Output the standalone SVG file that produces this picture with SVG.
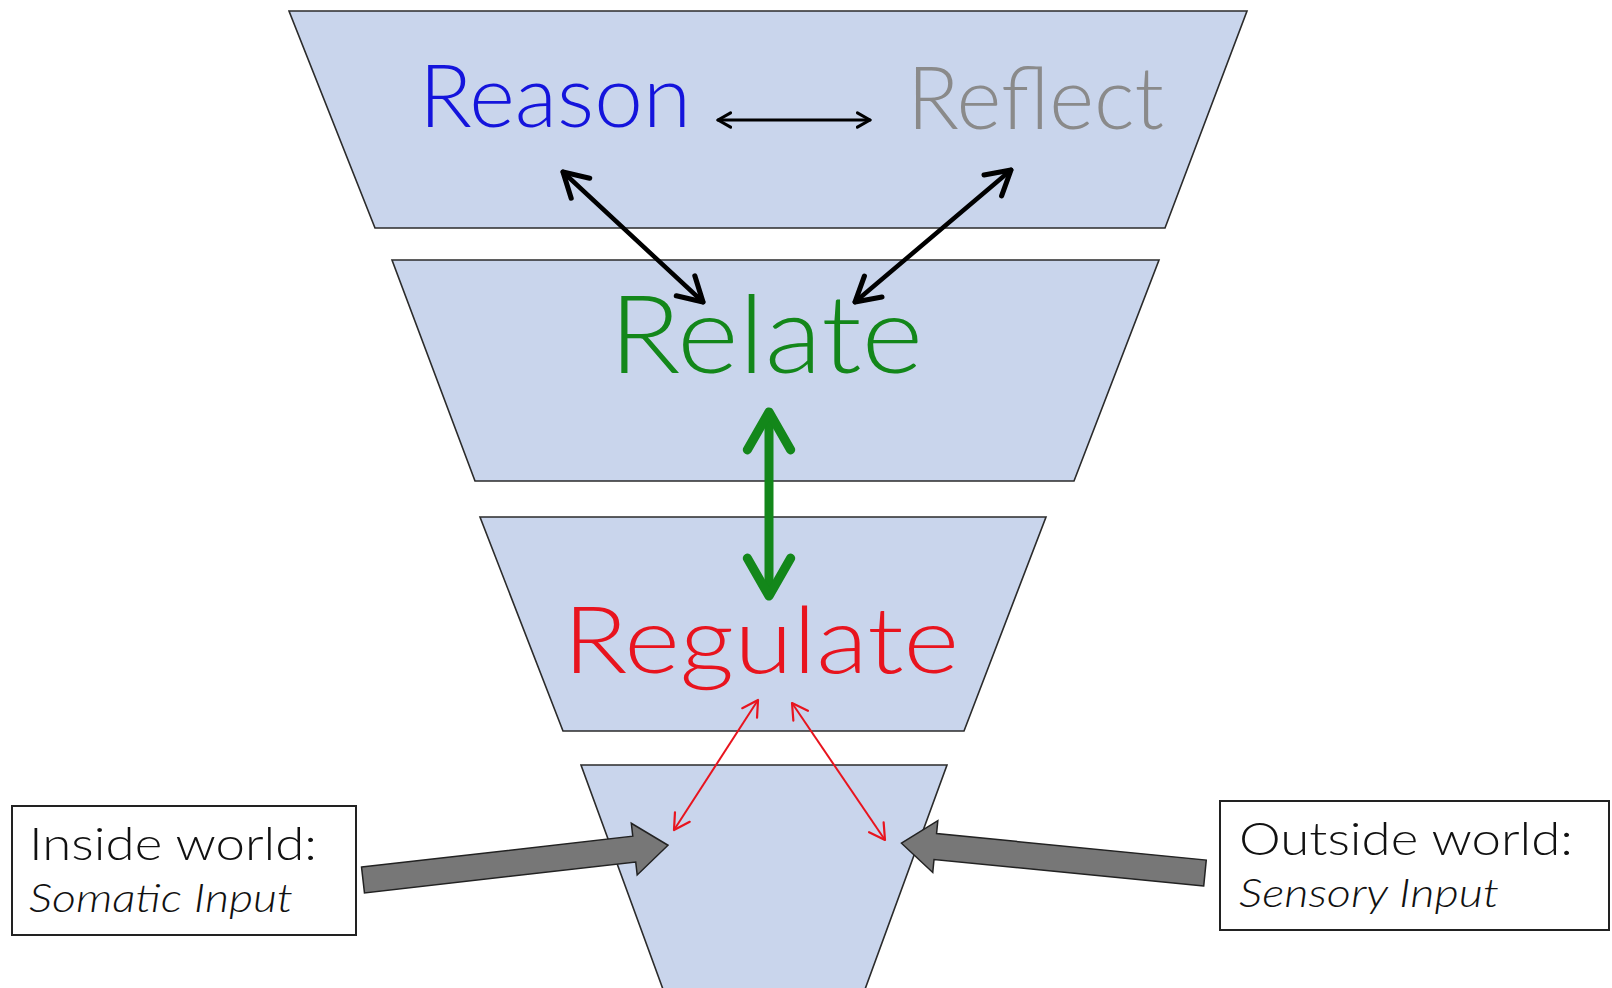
<svg xmlns="http://www.w3.org/2000/svg" width="1612" height="988" viewBox="0 0 1612 988">
<style>
.tier{fill:#c9d5ec;stroke:#2b2b2b;stroke-width:1.6}
.lbl{font-family:Lato,"Open Sans","Liberation Sans",sans-serif;font-weight:300}
.box{fill:#fff;stroke:#222;stroke-width:2}
.boxt{font-family:Lato,"Open Sans","Liberation Sans",sans-serif;font-weight:300;fill:#111}
.blk{fill:none;stroke:#000;stroke-linecap:round;stroke-linejoin:round}
.big{fill:#777;stroke:#222;stroke-width:1.5}
</style>
<defs>
<marker id="m-thin" viewBox="0 0 10 10" refX="8" refY="5" markerWidth="18" markerHeight="18" orient="auto-start-reverse" markerUnits="userSpaceOnUse">
<path d="M1,1 L8,5 L1,9" fill="none" stroke="#000" stroke-width="1.7" stroke-linecap="round" stroke-linejoin="round"/>
</marker>
<marker id="m-diag" viewBox="0 0 10 10" refX="8" refY="5" markerWidth="34" markerHeight="34" orient="auto-start-reverse" markerUnits="userSpaceOnUse">
<path d="M1,1 L8,5 L1,9" fill="none" stroke="#000" stroke-width="1.5" stroke-linecap="round" stroke-linejoin="round"/>
</marker>
<marker id="m-green" viewBox="0 0 10 10" refX="8" refY="5" markerWidth="54" markerHeight="54" orient="auto-start-reverse" markerUnits="userSpaceOnUse">
<path d="M1,1 L8,5 L1,9" fill="none" stroke="#13871a" stroke-width="1.7" stroke-linecap="round" stroke-linejoin="round"/>
</marker>
<marker id="m-red" viewBox="0 0 10 10" refX="8" refY="5" markerWidth="22" markerHeight="22" orient="auto-start-reverse" markerUnits="userSpaceOnUse">
<path d="M1,1 L8,5 L1,9" fill="none" stroke="#e8141e" stroke-width="1" stroke-linecap="round" stroke-linejoin="round"/>
</marker>
</defs>
<rect width="1612" height="988" fill="#fff"/>
<g id="tier-reason-reflect">
<polygon class="tier" points="289,11 1247,11 1165,228 375,228"/>
<text class="lbl" x="419" y="127" font-size="86" fill="#1414dc" textLength="272" lengthAdjust="spacingAndGlyphs">Reason</text>
<text class="lbl" x="907" y="129" font-size="86" fill="#8a8a8a" textLength="257" lengthAdjust="spacingAndGlyphs">Reflect</text>
</g>
<g id="tier-relate">
<polygon class="tier" points="392,260 1159,260 1074,481 475,481"/>
<text class="lbl" x="609" y="373" font-size="108" fill="#13871a" textLength="314" lengthAdjust="spacingAndGlyphs">Relate</text>
</g>
<g id="tier-regulate">
<polygon class="tier" points="480,517 1046,517 964,731 563,731"/>
<text class="lbl" x="563" y="673" font-size="93" fill="#e8141e" textLength="396" lengthAdjust="spacingAndGlyphs">Regulate</text>
</g>
<g id="tier-base">
<polygon class="tier" points="581,765 947,765 864,992 664,992"/>
</g>
<g id="inside-world">
<rect class="box" x="12" y="806" width="344" height="129"/>
<text class="boxt" x="29" y="860" font-size="46" textLength="288" lengthAdjust="spacingAndGlyphs">Inside world:</text>
<text class="boxt" x="29" y="912" font-size="39" font-style="italic" textLength="264" lengthAdjust="spacingAndGlyphs">Somatic Input</text>
</g>
<g id="outside-world">
<rect class="box" x="1220" y="801" width="389" height="129"/>
<text class="boxt" x="1239" y="855" font-size="46" textLength="334" lengthAdjust="spacingAndGlyphs">Outside world:</text>
<text class="boxt" x="1239" y="907" font-size="39" font-style="italic" textLength="260" lengthAdjust="spacingAndGlyphs">Sensory Input</text>
</g>
<g id="connectors">
<line class="blk" x1="718" y1="120" x2="870" y2="120" stroke-width="3" marker-start="url(#m-thin)" marker-end="url(#m-thin)"/>
<line class="blk" x1="563" y1="172" x2="703" y2="302" stroke-width="4.5" marker-start="url(#m-diag)" marker-end="url(#m-diag)"/>
<line class="blk" x1="1011" y1="170" x2="855" y2="302" stroke-width="4.5" marker-start="url(#m-diag)" marker-end="url(#m-diag)"/>
<line x1="769" y1="412" x2="769" y2="596" stroke="#13871a" stroke-width="9" stroke-linecap="butt" marker-start="url(#m-green)" marker-end="url(#m-green)"/>
<line x1="758" y1="700" x2="674" y2="830" stroke="#e8141e" stroke-width="2" marker-start="url(#m-red)" marker-end="url(#m-red)"/>
<line x1="792" y1="703" x2="885" y2="840" stroke="#e8141e" stroke-width="2" marker-start="url(#m-red)" marker-end="url(#m-red)"/>
<polygon class="big" transform="translate(363,880) rotate(-6.5)" points="0,-13 273,-13 273,-26 307,0 273,26 273,13 0,13"/>
<polygon class="big" transform="translate(1205,873) rotate(185.6)" points="0,-13 271,-13 271,-26 305,0 271,26 271,13 0,13"/>
</g>
</svg>
